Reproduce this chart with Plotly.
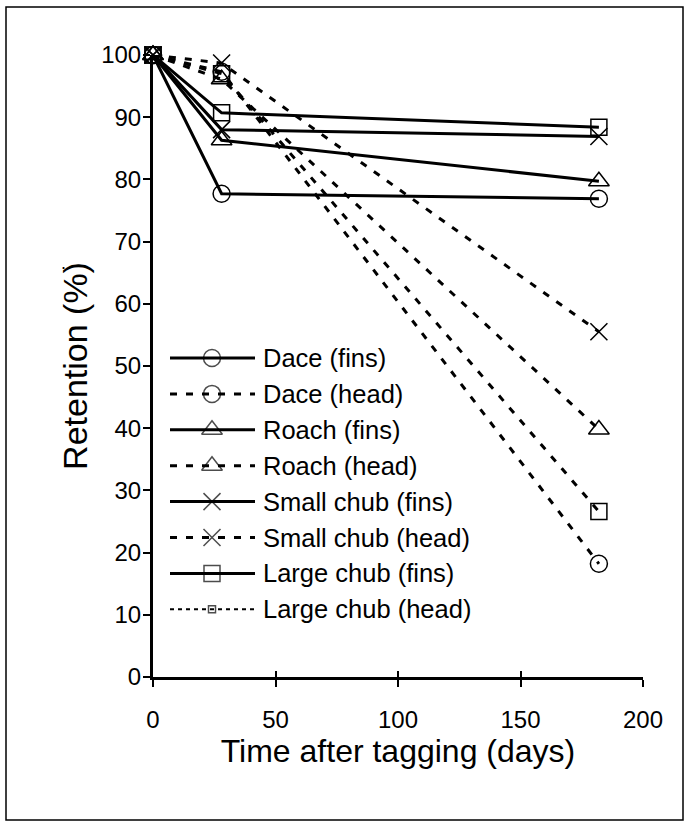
import plotly.graph_objects as go

# Tag retention over time, by species and tag location
days = [0, 28, 182]
dace_fins = [100, 77.7, 76.9]
dace_head = [100, 97.3, 18.2]
roach_fins = [100, 86.3, 79.7]
roach_head = [100, 96.1, 39.8]
small_chub_fins = [100, 88.0, 86.9]
small_chub_head = [100, 98.7, 55.5]
large_chub_fins = [100, 90.7, 88.4]
large_chub_head = [100, 97.0, 26.6]

series_names = ["Dace (fins)", "Dace (head)", "Roach (fins)", "Roach (head)",
                "Small chub (fins)", "Small chub (head)",
                "Large chub (fins)", "Large chub (head)"]
series_values = [dace_fins, dace_head, roach_fins, roach_head,
                 small_chub_fins, small_chub_head, large_chub_fins, large_chub_head]

x_ticks = [0, 50, 100, 150, 200]
y_ticks = [0, 10, 20, 30, 40, 50, 60, 70, 80, 90, 100]

FONT = "Liberation Sans, Arial, sans-serif"
BLACK = "#000000"
HEAD_DASH = "7px,9px"

# symbol, marker size, line width, dash pattern (plot area)
styles = [
    ("circle-open", 17, 3, "solid"),
    ("circle-open", 17, 3, HEAD_DASH),
    ("triangle-up-open", 18, 3, "solid"),
    ("triangle-up-open", 18, 3, HEAD_DASH),
    ("x-thin-open", 17, 3, "solid"),
    ("x-thin-open", 17, 3, HEAD_DASH),
    ("square-open", 16, 3, "solid"),
    ("square-open", 16, 3, HEAD_DASH),
]
# the key shows the last series with a thin dotted line and a small square
legend_styles = styles[:7] + [("square-open", 7, 2, "4px,4px")]

# plot area in pixels
W, H = 686, 832
L, R, T, B = 153, 643, 55, 677

fig = go.Figure()

for name, vals, (sym, msz, lw, dash) in zip(series_names, series_values, styles):
    fig.add_trace(go.Scatter(
        x=days, y=vals, name=name, mode="lines+markers",
        line=dict(color=BLACK, width=lw, dash=dash),
        marker=dict(symbol=sym, size=msz, color=BLACK, line=dict(color=BLACK, width=1.5)),
        cliponaxis=False, showlegend=False,
    ))

# invisible helper trace so the inner tick overlay axis gets drawn
fig.add_trace(go.Scatter(x=[x_ticks[0]], y=[y_ticks[0]], xaxis="x3", yaxis="y",
                         mode="markers", marker=dict(size=1, opacity=0),
                         showlegend=False, hoverinfo="skip"))

# legend block, drawn on a pixel-scaled overlay axis
leg_x0, leg_xm, leg_x1, leg_text = 170, 212, 255, 261
leg_y0, leg_dy = 358, 35.9
for i, (name, (sym, msz, lw, dash)) in enumerate(zip(series_names, legend_styles)):
    yy = leg_y0 + i * leg_dy
    fig.add_trace(go.Scatter(
        x=[leg_x0, leg_xm, leg_x1], y=[yy, yy, yy], mode="lines+markers",
        xaxis="x2", yaxis="y2",
        line=dict(color=BLACK, width=lw, dash=dash),
        marker=dict(symbol=sym, size=[0, msz, 0], color=BLACK,
                    line=dict(color=BLACK, width=1.5)),
        cliponaxis=False, showlegend=False, hoverinfo="skip",
    ))
    fig.add_annotation(x=leg_text, y=yy, xref="x2", yref="y2", text=name,
                       showarrow=False, xanchor="left", yanchor="middle",
                       font=dict(family=FONT, size=25.5, color=BLACK))

# small stray dot left of the y title
fig.add_annotation(x=(59 - L) / (R - L), y=(B - 268) / (B - T) + 0.008,
                   xref="paper", yref="paper", text=".", showarrow=False,
                   font=dict(family=FONT, size=18, color=BLACK))

# outer frame
fig.add_shape(type="rect", xref="paper", yref="paper",
              x0=(6 - L) / (R - L), x1=(683 - L) / (R - L),
              y0=(B - 820) / (B - T), y1=(B - 7) / (B - T),
              line=dict(color=BLACK, width=1.5))

fig.update_layout(
    width=W, height=H,
    margin=dict(l=L, r=W - R, t=T, b=H - B),
    paper_bgcolor="white", plot_bgcolor="white",
    font=dict(family=FONT, size=24, color=BLACK),
    xaxis=dict(range=[0, 200], tickvals=x_ticks, ticks="outside", ticklen=7,
               tickwidth=2, tickcolor=BLACK, showline=True, linewidth=3,
               linecolor=BLACK, showgrid=False, zeroline=False,
               ticklabelstandoff=12, tickfont=dict(family=FONT, size=24),
               title=dict(text="Time after tagging (days)", standoff=3,
                          font=dict(family=FONT, size=32))),
    xaxis3=dict(overlaying="x", anchor="y", side="bottom", range=[0, 200],
                tickvals=x_ticks[1:], ticks="inside", ticklen=6, tickwidth=2,
                tickcolor=BLACK, showticklabels=False, showline=False,
                showgrid=False, zeroline=False),
    yaxis=dict(range=[0, 100], tickvals=y_ticks, ticks="outside", ticklen=7,
               tickwidth=2, tickcolor=BLACK, showline=True, linewidth=3,
               linecolor=BLACK, showgrid=False, zeroline=False,
               ticklabelstandoff=-3, tickfont=dict(family=FONT, size=24),
               title=dict(text="Retention (%)", standoff=4,
                          font=dict(family=FONT, size=34))),
    xaxis2=dict(overlaying="x", range=[L, R], visible=False),
    yaxis2=dict(overlaying="y", range=[B, T], visible=False),
    showlegend=False,
)

fig.write_html("out.html")
